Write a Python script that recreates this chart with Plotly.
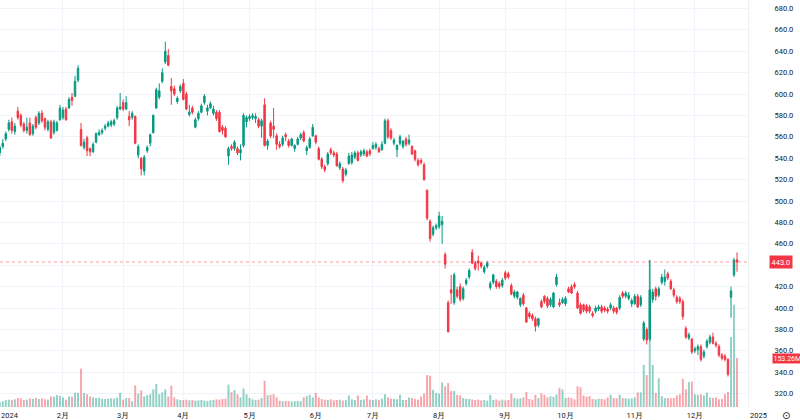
import plotly.graph_objects as go

# ---- data (trading-day index 0 = 2 Jan 2024 ... 245 = 20 Dec 2024) ----
opens = [545,551,558,567,574,565,584,580,572,566,
         573,563,578,573,582,577,567,574,564,566,
         576,578,586,587,597,598,613,567,550,559,
         549,546,555,562,564,568,570,571,572,578,
         586,592,586,579,578,579,543,540,528,547,
         554,564,587,597,612,630,636,607,605,593,
         603,610,600,581,587,569,577,583,592,584,
         587,582,583,583,569,568,542,551,549,549,
         545,552,574,577,578,577,576,570,590,552,
         573,570,561,553,553,562,556,552,549,553,
         559,564,547,550,561,561,549,539,532,535,
         548,545,544,531,530,525,535,536,541,545,
         543,544,546,547,549,550,549,548,554,575,
         566,554,548,554,551,558,554,551,547,538,
         538,534,510,481,469,475,476,478,450,405,
         417,405,417,420,409,423,429,452,442,444,
         442,434,439,419,424,425,423,421,433,432,
         421,411,410,403,412,400,395,393,390,384,
         406,411,409,403,401,422,405,405,404,418,
         420,422,414,403,403,402,401,395,397,399,
         401,400,399,400,400,400,400,414,411,409,
         404,404,411,403,371,380,371,408,418,412,
         424,425,432,425,417,410,409,406,381,372,
         371,360,361,364,355,364,368,373,367,364,
         356,355,352,410,431,445]
highs = [552,558,565,576,578,573,588,582,574,578,
         578,572,580,584,585,578,576,576,576,575,
         590,588,588,597,601,617,627,573,558,561,
         550,555,564,567,568,572,575,576,577,589,
         601,595,598,584,584,580,553,541,543,552,
         563,581,606,610,624,649,642,615,608,598,
         609,614,602,590,589,578,584,591,600,590,
         593,589,585,585,571,570,551,553,557,551,
         553,582,580,581,582,582,578,577,596,558,
         575,587,563,556,561,564,558,559,553,560,
         564,566,552,560,572,562,551,541,534,546,
         550,547,546,537,532,531,545,546,547,547,
         548,549,548,549,555,555,551,556,577,577,
         568,559,553,562,557,560,562,552,548,540,
         540,536,511,483,477,479,490,486,452,407,
         431,433,420,423,420,428,437,455,444,449,
         443,440,444,425,432,427,425,428,435,434,
         423,417,416,410,414,401,397,395,392,391,
         408,412,411,410,415,432,409,410,411,420,
         422,424,416,405,404,404,403,397,402,403,
         403,402,401,405,402,401,412,416,416,415,
         409,413,413,412,388,382,445,418,420,420,
         432,436,434,427,419,412,411,408,383,377,
         372,364,366,366,361,371,375,377,369,366,
         358,357,353,420,447,452]
lows = [542,549,556,565,563,562,576,569,564,563,
        561,561,567,571,573,566,565,558,562,565,
        575,576,575,586,589,597,611,551,548,542,
        542,545,554,561,562,566,569,569,570,576,
        585,584,585,570,576,553,540,524,524,545,
        551,563,586,595,610,628,626,590,598,591,
        601,594,585,579,581,568,575,582,590,580,
        586,580,575,564,562,559,534,547,547,543,
        538,550,569,575,576,573,568,559,551,548,
        559,559,548,549,551,556,550,551,546,552,
        557,555,543,549,560,553,538,530,527,533,
        543,541,532,529,517,523,534,534,539,537,
        541,542,541,542,548,548,545,547,553,558,
        557,552,541,552,549,551,552,543,537,532,
        534,519,482,462,467,473,474,460,437,377,
        404,403,409,406,407,421,427,441,435,435,
        437,432,437,417,422,418,418,419,426,427,
        412,409,408,401,402,386,390,388,378,382,
        400,404,400,401,400,420,401,404,402,414,
        413,418,399,394,396,395,395,391,395,397,
        395,396,395,398,395,394,398,409,409,407,
        401,403,400,401,369,366,369,405,407,410,
        422,421,426,417,410,404,404,389,371,370,
        357,358,356,350,353,362,366,366,363,354,
        351,350,336,391,429,434]
closes = [550,554,563,573,566,570,578,571,566,569,
          562,570,569,582,575,569,574,559,574,573,
          587,585,576,595,594,612,624,552,555,547,
          546,553,563,564,566,570,573,574,575,587,
          588,586,592,576,582,554,551,530,541,550,
          562,580,604,603,620,640,627,603,600,596,
          607,595,586,583,583,576,582,589,598,587,
          591,586,577,565,566,560,549,549,555,545,
          548,580,578,579,580,579,570,575,552,556,
          561,567,553,551,559,560,552,558,552,558,
          562,556,550,558,569,555,539,532,529,544,
          545,543,533,535,519,529,542,543,545,538,
          546,547,542,544,552,553,546,553,575,560,
          559,557,552,560,556,553,557,544,539,534,
          536,520,484,465,475,477,486,481,441,378,
          414,431,411,408,418,426,435,442,437,442,
          439,438,442,423,431,420,420,426,428,429,
          413,415,415,409,404,387,392,390,383,390,
          401,406,402,408,414,429,403,408,409,415,
          414,420,400,395,398,397,397,393,400,401,
          397,398,397,403,397,396,410,411,414,412,
          407,411,401,410,386,370,417,415,411,418,
          429,429,428,418,412,406,406,392,373,375,
          359,362,364,352,359,369,373,367,365,356,
          353,352,338,416,445,443]
volumes_m = [16,18,22,23,22,24,28,27,22,23,
             27,26,28,25,27,24,23,33,32,37,
             35,30,23,33,32,45,44,120,44,40,
             33,30,28,29,26,25,26,27,26,29,
             45,23,28,28,18,68,42,52,33,37,
             40,55,72,40,46,55,33,67,30,24,
             22,22,23,21,22,20,21,22,20,19,
             21,22,24,23,25,26,70,46,53,40,
             30,58,40,28,24,22,23,28,82,37,
             38,40,30,20,18,19,18,17,18,19,
             18,30,34,38,30,44,30,25,23,22,
             24,21,22,23,20,22,36,24,22,36,
             22,24,36,23,22,24,22,26,40,30,
             26,25,24,38,22,22,30,28,25,23,
             33,42,100,98,54,44,42,77,65,75,
             50,50,38,36,28,26,25,24,22,23,
             21,22,20,38,22,24,20,23,21,22,
             42,28,26,27,30,47,25,23,38,28,
             43,38,30,33,32,39,60,55,28,30,
             28,24,65,62,36,32,34,25,24,26,
             25,24,30,38,28,27,38,28,27,26,
             27,30,46,46,132,100,460,132,44,90,
             34,28,28,27,28,36,40,88,55,78,
             80,40,38,40,36,45,30,28,30,24,
             26,40,48,219,320,153.26]

month_tick_idx = [21, 41, 61, 83, 105, 124, 146, 168, 188, 211, 231]
month_tick_text = ["2月", "3月", "4月", "5月", "6月", "7月", "8月", "9月", "10月", "11月", "12月"]
price_ticks = [320, 340, 360, 380, 400, 420, 440, 460, 480, 500, 520, 540, 560,
               580, 600, 620, 640, 660, 680]
last_price = 443.0
last_volume_m = 153.26

n = len(closes)
for name, arr in [("opens", opens), ("highs", highs), ("lows", lows), ("volumes", volumes_m)]:
    if len(arr) != n:
        raise ValueError(f"{name} has {len(arr)} values, expected {n}")

UP = "#089981"
DOWN = "#f23645"
UP_VOL = "rgba(8,153,129,0.45)"
DOWN_VOL = "rgba(242,54,69,0.45)"
TEXT = "#131722"
GRID = "#f0f3fa"
FONT = "Roboto"

idx = list(range(n))
vol_colors = [UP_VOL if c >= o else DOWN_VOL for o, c in zip(opens, closes)]

fig = go.Figure()
fig.add_trace(go.Bar(x=idx, y=volumes_m, marker_color=vol_colors, marker_line_width=0,
                     yaxis="y", showlegend=False, hoverinfo="skip"))
fig.add_trace(go.Candlestick(
    x=idx, open=opens, high=highs, low=lows, close=closes, yaxis="y2",
    increasing=dict(line=dict(color=UP, width=1), fillcolor=UP),
    decreasing=dict(line=dict(color=DOWN, width=1), fillcolor=DOWN),
    whiskerwidth=0, showlegend=False))

price_ticktext = ["" if abs(v - last_price) < 5 else f"{v:.1f}" for v in price_ticks]

fig.update_layout(
    width=800, height=420,
    margin=dict(l=0, r=52, t=0, b=13),
    paper_bgcolor="white", plot_bgcolor="white",
    bargap=0.35,
    font=dict(family=FONT, size=7.5, color=TEXT),
    xaxis=dict(range=[0.07, 248.65], tickmode="array", tickvals=month_tick_idx,
               ticktext=month_tick_text, showgrid=True, gridcolor=GRID, gridwidth=1,
               zeroline=False, showline=False, ticks="", rangeslider=dict(visible=False),
               tickfont=dict(size=7.5, color=TEXT), ticklabelstandoff=2),
    yaxis=dict(range=[0, 1275], visible=False, showgrid=False, zeroline=False),
    yaxis2=dict(range=[307.5, 687.9], overlaying="y", side="right", tickmode="array",
                tickvals=price_ticks, ticktext=price_ticktext, showgrid=True,
                gridcolor=GRID, gridwidth=1, zeroline=False, showline=True,
                linecolor="#eef0f4", linewidth=1, ticks="",
                tickfont=dict(size=7.5, color=TEXT), ticklabelstandoff=24),
    shapes=[dict(type="line", xref="paper", x0=0, x1=1, yref="y2", y0=last_price,
                 y1=last_price, line=dict(color="rgba(242,54,69,0.5)", width=1, dash="dot"))],
    annotations=[
        dict(text=f"{last_price:.1f}", xref="paper", x=1, xanchor="left", xshift=21,
             yref="y2", y=last_price, yanchor="middle", showarrow=False,
             bgcolor=DOWN, borderpad=1.5, font=dict(color="white", size=7.5, family=FONT)),
        dict(text=f"{last_volume_m:.2f}M", xref="paper", x=1, xanchor="left", xshift=24,
             yref="y", y=last_volume_m, yanchor="middle", showarrow=False,
             bgcolor=DOWN, borderpad=0.5, font=dict(color="white", size=7, family=FONT)),
        dict(text="2024", xref="paper", x=0, xanchor="left", xshift=-1,
             yref="paper", y=0, yanchor="top", yshift=-2, showarrow=False,
             font=dict(size=7.5, color=TEXT, family=FONT)),
        dict(text="2025", xref="paper", x=(758 / 748), xanchor="center",
             yref="paper", y=0, yanchor="top", yshift=-2, showarrow=False,
             font=dict(size=7.5, color=TEXT, family=FONT)),
        dict(text="⊙", xref="paper", x=(786 / 748), xanchor="center",
             yref="paper", y=0, yanchor="top", yshift=-1, showarrow=False,
             font=dict(size=10, color=TEXT, family="DejaVu Sans")),
    ],
)

fig.write_html("out.html")
